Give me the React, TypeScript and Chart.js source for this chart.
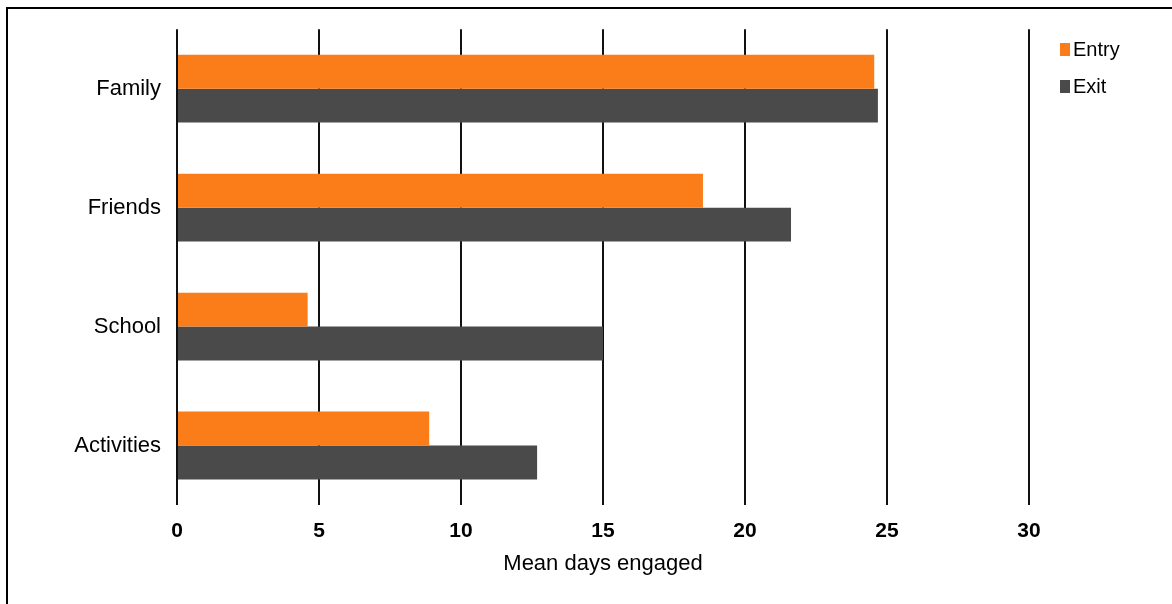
import React, { useEffect, useRef } from "react";
import { Chart, registerables } from "chart.js";

Chart.register(...registerables);

const categories = ["Family", "Friends", "School", "Activities"];
const entryValues = [24.55, 18.52, 4.6, 8.88];
const exitValues = [24.68, 21.62, 15.0, 12.68];
const seriesLabels = ["Entry", "Exit"];
const seriesColors = ["#FA7D1A", "#4A4A4A"];
const xTicks = [0, 5, 10, 15, 20, 25, 30];

const FONT = "'Liberation Sans', Arial, sans-serif";

const framePlugin = {
  id: "frame",
  beforeDraw(chart: any) {
    const ctx = chart.ctx;
    ctx.save();
    ctx.fillStyle = "#ffffff";
    ctx.fillRect(0, 0, chart.width, chart.height);
    ctx.strokeStyle = "#000000";
    ctx.lineWidth = 2;
    ctx.strokeRect(7, 8, chart.width + 20, chart.height + 20);
    ctx.restore();
  },
};

const legendPlugin = {
  id: "sideLegend",
  afterDraw(chart: any) {
    const ctx = chart.ctx;
    ctx.save();
    ctx.font = `20px ${FONT}`;
    ctx.textBaseline = "middle";
    ctx.textAlign = "left";
    chart.data.datasets.forEach((ds: any, i: number) => {
      const cy = 50 + i * 37;
      ctx.fillStyle = ds.backgroundColor;
      ctx.fillRect(1060, cy - 7, 10, 13);
      ctx.fillStyle = "#000000";
      ctx.fillText(ds.label, 1073, cy);
    });
    ctx.restore();
  },
};

export default function App() {
  const canvasRef = useRef<HTMLCanvasElement | null>(null);

  useEffect(() => {
    if (!canvasRef.current) return;
    const chart = new Chart(canvasRef.current, {
      type: "bar",
      data: {
        labels: categories,
        datasets: [
          {
            label: seriesLabels[0],
            data: entryValues,
            backgroundColor: seriesColors[0],
            barPercentage: 1,
            categoryPercentage: 0.57,
          },
          {
            label: seriesLabels[1],
            data: exitValues,
            backgroundColor: seriesColors[1],
            barPercentage: 1,
            categoryPercentage: 0.57,
          },
        ],
      },
      options: {
        indexAxis: "y",
        responsive: false,
        animation: false,
        layout: { padding: { top: 27, right: 143, left: 0, bottom: 0 } },
        plugins: {
          legend: { display: false },
          tooltip: { enabled: false },
        },
        scales: {
          x: {
            min: 0,
            max: 30,
            afterBuildTicks: (scale: any) => {
              scale.ticks = xTicks.map((v) => ({ value: v }));
            },
            afterFit: (scale: any) => {
              scale.height = 99;
            },
            grid: {
              color: "#111111",
              lineWidth: 2,
              drawTicks: false,
            },
            border: { display: false },
            ticks: {
              color: "#000000",
              padding: 14,
              font: { family: FONT, size: 21, weight: "bold" },
            },
            title: {
              display: true,
              text: "Mean days engaged",
              color: "#000000",
              font: { family: FONT, size: 22 },
              padding: { top: 0, bottom: 27 },
            },
          },
          y: {
            afterFit: (scale: any) => {
              scale.width = 177;
            },
            grid: { display: false, drawTicks: false },
            border: { display: false },
            ticks: {
              color: "#000000",
              padding: 16,
              font: { family: FONT, size: 22 },
            },
          },
        },
      },
      plugins: [framePlugin, legendPlugin],
    } as any);
    return () => chart.destroy();
  }, []);

  return (
    <div style={{ position: "fixed", left: 0, top: 0, width: 1172, height: 604 }}>
      <canvas ref={canvasRef} width={1172} height={604} style={{ display: "block" }} />
    </div>
  );
}
